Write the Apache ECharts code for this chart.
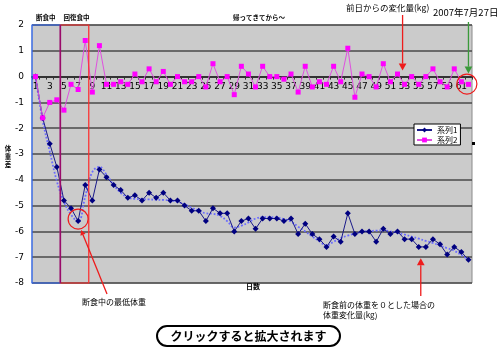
<!DOCTYPE html>
<html>
<head>
<meta charset="utf-8">
<script src="https://cdn.jsdelivr.net/npm/echarts@6/dist/echarts.min.js"></script>
<style>
  html, body { margin: 0; padding: 0; background: #fff; }
  #chart { width: 500px; height: 350px; }
</style>
</head>
<body>
<div id="chart"></div>
<script>
// Day numbers along the x axis
const days = Array.from({ length: 62 }, (_, i) => String(i + 1));

// 系列1: weight change relative to the pre-fast weight (kg)
const weightDiff = [
  0, -1.6, -2.6, -3.5, -4.8, -5.1, -5.6, -4.2, -4.8, -3.6,
  -3.9, -4.2, -4.4, -4.7, -4.6, -4.8, -4.5, -4.7, -4.5, -4.8,
  -4.8, -5.0, -5.2, -5.2, -5.6, -5.1, -5.3, -5.3, -6.0, -5.6,
  -5.5, -5.9, -5.5, -5.5, -5.5, -5.6, -5.5, -6.1, -5.7, -6.1,
  -6.3, -6.6, -6.2, -6.4, -5.3, -6.1, -6.0, -6.0, -6.4, -5.9,
  -6.1, -6.0, -6.3, -6.3, -6.6, -6.6, -6.3, -6.5, -6.9, -6.6,
  -6.8, -7.1
];

// 系列2: change from the previous day (kg)
const dailyChange = [
  0, -1.6, -1.0, -0.9, -1.3, -0.3, -0.5, 1.4, -0.6, 1.2,
  -0.3, -0.3, -0.2, -0.3, 0.1, -0.2, 0.3, -0.2, 0.2, -0.3,
  0, -0.2, -0.2, 0, -0.4, 0.5, -0.2, 0, -0.7, 0.4,
  0.1, -0.4, 0.4, 0, 0, -0.1, 0.1, -0.6, 0.4, -0.4,
  -0.2, -0.3, 0.4, -0.2, 1.1, -0.8, 0.1, 0, -0.4, 0.5,
  -0.2, 0.1, -0.3, 0, -0.3, 0, 0.3, -0.2, -0.4, 0.3,
  -0.2, -0.3
];

// Smoothed trend of the weight curve (dotted)
const weightTrend = [
  0, -1.7, -2.9, -4.05, -4.85, -5.35, -5.62, -4.65, -3.7, -3.5,
  -3.8, -4.2, -4.5, -4.68, -4.74, -4.75, -4.76, -4.77, -4.78, -4.8,
  -4.85, -4.95, -5.08, -5.2, -5.3, -5.32, -5.4, -5.6, -5.85, -5.78,
  -5.65, -5.5, -5.45, -5.45, -5.47, -5.52, -5.62, -5.82, -6.0, -6.2,
  -6.38, -6.55, -6.4, -6.26, -6.16, -6.08, -6.02, -5.99, -5.97, -5.96,
  -6.0, -6.05, -6.12, -6.2, -6.28, -6.37, -6.45, -6.55, -6.65, -6.75,
  -6.92, -7.1
];

const yTicks = { min: -8, max: 2, step: 1 };
const fastDays = [1, 4];      // 断食中
const recoveryDays = [5, 8];  // 回復食中

const JP = '"Noto Sans CJK JP", "Noto Sans", sans-serif';
const gridBox = { left: 32, right: 28, top: 25, bottom: 67 };
const plotH = 350 - gridBox.top - gridBox.bottom;
// lift the category axis from the bottom edge up to the value 0
const zeroOffset = -plotH * (0 - yTicks.min) / (yTicks.max - yTicks.min);

const chart = echarts.init(document.getElementById('chart'), null, { renderer: 'canvas' });

chart.setOption({
  animation: false,
  backgroundColor: '#ffffff',
  textStyle: { fontFamily: JP },
  grid: Object.assign({
    show: true, backgroundColor: '#cbcbcb', borderColor: '#8a8a8a', borderWidth: 1
  }, gridBox),
  legend: {
    data: ['系列1', '系列2'],
    orient: 'vertical',
    left: 414, top: 124,
    backgroundColor: '#ffffff',
    borderColor: '#000000', borderWidth: 1,
    padding: [2, 3, 1, 2],
    itemGap: 2, itemWidth: 15, itemHeight: 6,
    textStyle: { fontSize: 8, color: '#000', fontFamily: JP }
  },
  xAxis: {
    type: 'category',
    data: days,
    boundaryGap: true,
    position: 'bottom',
    offset: zeroOffset,
    axisLine: { onZero: false, lineStyle: { color: '#333', width: 2 } },
    axisTick: { show: true, interval: 0, length: 3, lineStyle: { color: '#333' } },
    axisLabel: { interval: 1, fontSize: 9, color: '#000', margin: 6, fontFamily: 'DejaVu Sans' },
    splitLine: { show: false }
  },
  yAxis: {
    type: 'value',
    min: yTicks.min, max: yTicks.max, interval: yTicks.step,
    axisLine: { show: false },
    axisTick: { show: false },
    axisLabel: { fontSize: 9, color: '#000', margin: 8, fontFamily: 'DejaVu Sans' },
    splitLine: { show: true, lineStyle: { color: '#4a4a4a', width: 1.5 } }
  },
  series: [
    {
      name: 'trend',
      type: 'line',
      data: weightTrend,
      smooth: 0.4,
      symbol: 'none',
      silent: true,
      lineStyle: { color: '#6a6aff', width: 1.8, type: 'dotted' },
      z: 1
    },
    {
      name: '系列1',
      type: 'line',
      data: weightDiff,
      symbol: 'diamond',
      symbolSize: 6,
      showAllSymbol: true,
      itemStyle: { color: '#000080' },
      lineStyle: { color: '#1a1a8a', width: 1 },
      z: 3
    },
    {
      name: '系列2',
      type: 'line',
      data: dailyChange,
      symbol: 'rect',
      symbolSize: 5,
      showAllSymbol: true,
      itemStyle: { color: '#ff00ff' },
      lineStyle: { color: '#e050e0', width: 1 },
      z: 3
    }
  ]
});

// Annotations placed from the chart's own axes
const px = (i, v) => chart.convertToPixel({ gridIndex: 0 }, [i, v]);
const band = px(1, 0)[0] - px(0, 0)[0];
const yTop = px(0, yTicks.max)[1];
const yBot = px(0, yTicks.min)[1];
const xEdge = d => px(d - 1, 0)[0];

const fastL = xEdge(fastDays[0]) - band / 2;
const fastR = xEdge(fastDays[1]) + band / 2;
const recL = xEdge(recoveryDays[0]) - band / 2;
const recR = xEdge(recoveryDays[1]) + band / 2;

function arrow(x1, y1, x2, y2, color, head) {
  const ang = Math.atan2(y2 - y1, x2 - x1);
  const h = head || 6, w = h * 0.55;
  const bx = x2 - h * Math.cos(ang), by = y2 - h * Math.sin(ang);
  return [
    { type: 'line', shape: { x1, y1, x2: bx, y2: by }, style: { stroke: color, lineWidth: 1.3 }, silent: true, z: 20 },
    { type: 'polygon', shape: { points: [[x2, y2],
        [bx + w * Math.sin(ang), by - w * Math.cos(ang)],
        [bx - w * Math.sin(ang), by + w * Math.cos(ang)]] },
      style: { fill: color }, silent: true, z: 20 }
  ];
}
function label(text, x, y, opts) {
  return {
    type: 'text', x, y, silent: true, z: 20,
    style: Object.assign({ text, fill: '#000', font: '8px ' + JP, textVerticalAlign: 'middle' }, opts || {})
  };
}

const minPt = px(6, weightDiff[6]);
const lastA = px(60, dailyChange[60]);
const lastB = px(61, dailyChange[61]);
const ringX = (lastA[0] + lastB[0]) / 2 + 2;
const ringY = (lastA[1] + lastB[1]) / 2 + 1;
const redTopX = px(52, 0)[0] - 2;
const greenX = px(61, 0)[0];
const zeroY = px(0, 0)[1];
const arrowBX = px(54, 0)[0] + 2;

const graphics = [
  // phase boxes
  { type: 'rect', shape: { x: fastL, y: yTop, width: fastR - fastL, height: yBot - yTop },
    style: { fill: 'none', stroke: '#2f6bff', lineWidth: 1.2 }, silent: true, z: 10 },
  { type: 'rect', shape: { x: recL, y: yTop, width: recR - recL, height: yBot - yTop },
    style: { fill: 'none', stroke: '#ff2a2a', lineWidth: 1.2 }, silent: true, z: 10 },
  { type: 'line', shape: { x1: recL, y1: yTop, x2: recL, y2: yBot },
    style: { stroke: '#9a0a6a', lineWidth: 1.5 }, silent: true, z: 11 },
  label('断食中', fastL + 4, 18, { font: 'bold 6.5px ' + JP }),
  label('回復食中', recL + 3, 18, { font: 'bold 6.5px ' + JP }),
  label('帰ってきてから〜', 233, 18, { font: 'bold 6.5px ' + JP }),

  // axis titles
  label('体\n重\n差', 8, 157, { font: 'bold 6.5px ' + JP, textAlign: 'center', lineHeight: 8 }),
  label('日数', 246, 286, { font: 'bold 7px ' + JP }),

  // top annotations
  label('前日からの変化量(kg)', 346, 8, { font: '8.5px ' + JP }),
  label('2007年7月27日', 433, 12, { font: '9.5px ' + JP }),
  ...arrow(redTopX, 15, redTopX, zeroY - 6, '#ee1c1c', 7),
  ...arrow(greenX, 22, greenX, zeroY - 3, '#3a9a3a', 7),
  { type: 'circle', shape: { cx: ringX, cy: ringY, r: 10 },
    style: { fill: 'none', stroke: '#ee1c1c', lineWidth: 1.2 }, silent: true, z: 20 },

  // lowest weight during the fast
  { type: 'circle', shape: { cx: minPt[0], cy: minPt[1] - 2, r: 10 },
    style: { fill: 'none', stroke: '#ee1c1c', lineWidth: 1.2 }, silent: true, z: 20 },
  ...arrow(107, 294, minPt[0] + 3, minPt[1] + 9, '#ee1c1c', 5),
  label('断食中の最低体重', 82, 302, { font: '8px ' + JP }),

  // bottom-right note on the weight curve
  ...arrow(arrowBX, 296, arrowBX, px(0, -7)[1] + 1, '#ee1c1c', 7),
  label('断食前の体重を０とした場合の', 323, 305, { font: '8px ' + JP }),
  label('体重変化量(kg)', 323, 315, { font: '8px ' + JP }),

  // small handle on the plot's right edge
  { type: 'rect', shape: { x: 472, y: 142, width: 3, height: 3 }, style: { fill: '#000' }, silent: true, z: 20 },

  // button
  { type: 'rect', shape: { x: 157, y: 326, width: 183, height: 20, r: 10 },
    style: { fill: '#fff', stroke: '#000', lineWidth: 2 }, silent: true, z: 20 },
  label('クリックすると拡大されます', 248.5, 336, { font: 'bold 12px ' + JP, textAlign: 'center' })
];

chart.setOption({ graphic: graphics });
</script>
</body>
</html>
